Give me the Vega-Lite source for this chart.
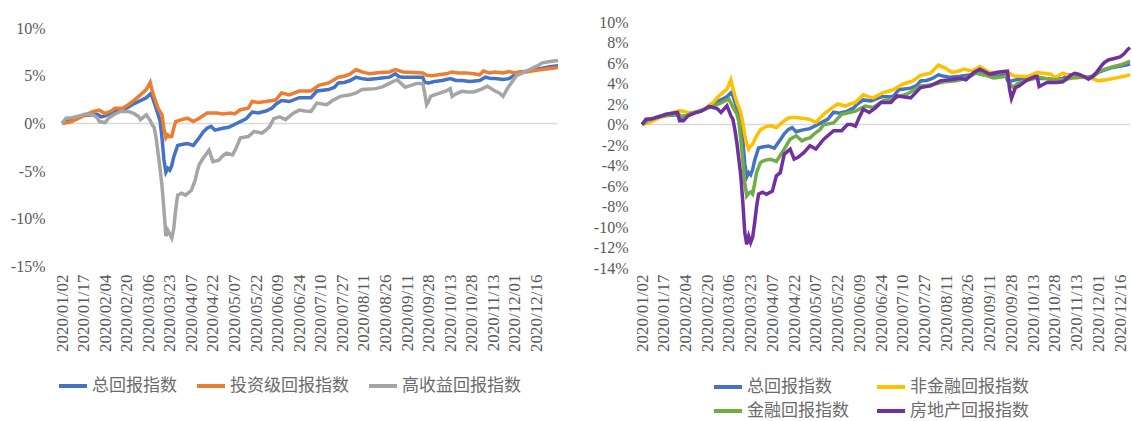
{
"$schema": "https://vega.github.io/schema/vega-lite/v6.json",
"background": "white",
"padding": {"left": 10, "top": 14, "right": 2, "bottom": 0},
"spacing": 28,
"config": {"view": {"stroke": null}, "axis": {"labelFont": "Liberation Serif", "labelFontSize": 16, "labelColor": "#595959", "grid": false, "ticks": false, "domain": false, "title": null}},
"resolve": {"scale": {"color": "independent"}, "legend": {"color": "independent"}},
"datasets": {
"L": [
{"s":"总回报指数","i":0,"v":0},{"s":"总回报指数","i":3,"v":0.3},{"s":"总回报指数","i":6,"v":0.5},{"s":"总回报指数","i":10,"v":0.8},{"s":"总回报指数","i":14,"v":0.9},{"s":"总回报指数","i":18,"v":0.95},{"s":"总回报指数","i":20,"v":0.7},{"s":"总回报指数","i":22,"v":0.8},{"s":"总回报指数","i":25,"v":1.1},{"s":"总回报指数","i":28,"v":1.25},{"s":"总回报指数","i":32,"v":1.5},{"s":"总回报指数","i":36,"v":2.0},{"s":"总回报指数","i":40,"v":2.4},{"s":"总回报指数","i":43,"v":2.7},{"s":"总回报指数","i":45,"v":3.1},{"s":"总回报指数","i":46,"v":2.8},{"s":"总回报指数","i":48,"v":1.6},{"s":"总回报指数","i":50,"v":0.3},{"s":"总回报指数","i":51,"v":-1.5},{"s":"总回报指数","i":52,"v":-3.8},{"s":"总回报指数","i":53,"v":-5.1},{"s":"总回报指数","i":54,"v":-4.7},{"s":"总回报指数","i":55,"v":-4.9},{"s":"总回报指数","i":56,"v":-4.4},{"s":"总回报指数","i":57,"v":-3.5},{"s":"总回报指数","i":59,"v":-2.3},{"s":"总回报指数","i":61,"v":-2.2},{"s":"总回报指数","i":64,"v":-2.1},{"s":"总回报指数","i":67,"v":-2.3},{"s":"总回报指数","i":70,"v":-1.5},{"s":"总回报指数","i":72,"v":-0.9},{"s":"总回报指数","i":74,"v":-0.5},{"s":"总回报指数","i":76,"v":-0.3},{"s":"总回报指数","i":78,"v":-0.7},{"s":"总回报指数","i":82,"v":-0.5},{"s":"总回报指数","i":85,"v":-0.4},{"s":"总回报指数","i":89,"v":0.0},{"s":"总回报指数","i":92,"v":0.3},{"s":"总回报指数","i":94,"v":0.5},{"s":"总回报指数","i":97,"v":1.2},{"s":"总回报指数","i":100,"v":1.1},{"s":"总回报指数","i":104,"v":1.3},{"s":"总回报指数","i":107,"v":1.6},{"s":"总回报指数","i":109,"v":2.0},{"s":"总回报指数","i":112,"v":2.4},{"s":"总回报指数","i":116,"v":2.3},{"s":"总回报指数","i":121,"v":2.7},{"s":"总回报指数","i":127,"v":2.7},{"s":"总回报指数","i":130,"v":3.4},{"s":"总回报指数","i":136,"v":3.55},{"s":"总回报指数","i":139,"v":3.8},{"s":"总回报指数","i":141,"v":4.25},{"s":"总回报指数","i":144,"v":4.3},{"s":"总回报指数","i":147,"v":4.5},{"s":"总回报指数","i":150,"v":4.85},{"s":"总回报指数","i":153,"v":4.7},{"s":"总回报指数","i":156,"v":4.6},{"s":"总回报指数","i":161,"v":4.7},{"s":"总回报指数","i":167,"v":4.85},{"s":"总回报指数","i":170,"v":5.2},{"s":"总回报指数","i":172,"v":4.9},{"s":"总回报指数","i":174,"v":4.85},{"s":"总回报指数","i":180,"v":4.85},{"s":"总回报指数","i":184,"v":4.85},{"s":"总回报指数","i":185,"v":4.3},{"s":"总回报指数","i":187,"v":4.25},{"s":"总回报指数","i":190,"v":4.4},{"s":"总回报指数","i":194,"v":4.5},{"s":"总回报指数","i":198,"v":4.7},{"s":"总回报指数","i":201,"v":4.5},{"s":"总回报指数","i":204,"v":4.5},{"s":"总回报指数","i":208,"v":4.4},{"s":"总回报指数","i":213,"v":4.5},{"s":"总回报指数","i":216,"v":4.85},{"s":"总回报指数","i":219,"v":4.7},{"s":"总回报指数","i":221,"v":4.7},{"s":"总回报指数","i":225,"v":4.6},{"s":"总回报指数","i":228,"v":4.7},{"s":"总回报指数","i":231,"v":5.1},{"s":"总回报指数","i":234,"v":5.3},{"s":"总回报指数","i":237,"v":5.5},{"s":"总回报指数","i":241,"v":5.65},{"s":"总回报指数","i":245,"v":5.8},{"s":"总回报指数","i":249,"v":5.95},{"s":"总回报指数","i":253,"v":6.05},
{"s":"投资级回报指数","i":0,"v":0},{"s":"投资级回报指数","i":3,"v":0.1},{"s":"投资级回报指数","i":5,"v":0.2},{"s":"投资级回报指数","i":8,"v":0.5},{"s":"投资级回报指数","i":12,"v":0.9},{"s":"投资级回报指数","i":16,"v":1.25},{"s":"投资级回报指数","i":19,"v":1.4},{"s":"投资级回报指数","i":22,"v":1.05},{"s":"投资级回报指数","i":25,"v":1.3},{"s":"投资级回报指数","i":27,"v":1.6},{"s":"投资级回报指数","i":31,"v":1.6},{"s":"投资级回报指数","i":34,"v":2.0},{"s":"投资级回报指数","i":36,"v":2.3},{"s":"投资级回报指数","i":40,"v":3.0},{"s":"投资级回报指数","i":43,"v":3.55},{"s":"投资级回报指数","i":45,"v":4.3},{"s":"投资级回报指数","i":46,"v":3.4},{"s":"投资级回报指数","i":48,"v":2.2},{"s":"投资级回报指数","i":49,"v":1.6},{"s":"投资级回报指数","i":51,"v":0.9},{"s":"投资级回报指数","i":52,"v":-0.5},{"s":"投资级回报指数","i":53,"v":-1.5},{"s":"投资级回报指数","i":54,"v":-1.2},{"s":"投资级回报指数","i":55,"v":-1.4},{"s":"投资级回报指数","i":56,"v":-1.37},{"s":"投资级回报指数","i":57,"v":-0.5},{"s":"投资级回报指数","i":58,"v":0.2},{"s":"投资级回报指数","i":61,"v":0.4},{"s":"投资级回报指数","i":64,"v":0.55},{"s":"投资级回报指数","i":67,"v":0.2},{"s":"投资级回报指数","i":70,"v":0.55},{"s":"投资级回报指数","i":74,"v":1.1},{"s":"投资级回报指数","i":79,"v":1.1},{"s":"投资级回报指数","i":82,"v":1.0},{"s":"投资级回报指数","i":86,"v":1.1},{"s":"投资级回报指数","i":88,"v":1.0},{"s":"投资级回报指数","i":91,"v":1.44},{"s":"投资级回报指数","i":95,"v":1.6},{"s":"投资级回报指数","i":97,"v":2.3},{"s":"投资级回报指数","i":100,"v":2.2},{"s":"投资级回报指数","i":104,"v":2.3},{"s":"投资级回报指数","i":109,"v":2.45},{"s":"投资级回报指数","i":112,"v":3.2},{"s":"投资级回报指数","i":116,"v":3.0},{"s":"投资级回报指数","i":121,"v":3.4},{"s":"投资级回报指数","i":127,"v":3.4},{"s":"投资级回报指数","i":131,"v":4.0},{"s":"投资级回报指数","i":136,"v":4.25},{"s":"投资级回报指数","i":141,"v":4.85},{"s":"投资级回报指数","i":144,"v":4.95},{"s":"投资级回报指数","i":147,"v":5.2},{"s":"投资级回报指数","i":150,"v":5.65},{"s":"投资级回报指数","i":153,"v":5.4},{"s":"投资级回报指数","i":157,"v":5.2},{"s":"投资级回报指数","i":162,"v":5.35},{"s":"投资级回报指数","i":167,"v":5.4},{"s":"投资级回报指数","i":170,"v":5.65},{"s":"投资级回报指数","i":174,"v":5.4},{"s":"投资级回报指数","i":179,"v":5.35},{"s":"投资级回报指数","i":184,"v":5.3},{"s":"投资级回报指数","i":186,"v":5.05},{"s":"投资级回报指数","i":189,"v":5.0},{"s":"投资级回报指数","i":192,"v":5.1},{"s":"投资级回报指数","i":196,"v":5.2},{"s":"投资级回报指数","i":199,"v":5.4},{"s":"投资级回报指数","i":202,"v":5.3},{"s":"投资级回报指数","i":206,"v":5.3},{"s":"投资级回报指数","i":210,"v":5.2},{"s":"投资级回报指数","i":213,"v":5.1},{"s":"投资级回报指数","i":215,"v":5.5},{"s":"投资级回报指数","i":218,"v":5.3},{"s":"投资级回报指数","i":221,"v":5.4},{"s":"投资级回报指数","i":225,"v":5.3},{"s":"投资级回报指数","i":228,"v":5.45},{"s":"投资级回报指数","i":231,"v":5.3},{"s":"投资级回报指数","i":234,"v":5.45},{"s":"投资级回报指数","i":237,"v":5.4},{"s":"投资级回报指数","i":241,"v":5.55},{"s":"投资级回报指数","i":245,"v":5.65},{"s":"投资级回报指数","i":249,"v":5.75},{"s":"投资级回报指数","i":253,"v":5.85},
{"s":"高收益回报指数","i":0,"v":0},{"s":"高收益回报指数","i":2,"v":0.55},{"s":"高收益回报指数","i":5,"v":0.6},{"s":"高收益回报指数","i":8,"v":0.75},{"s":"高收益回报指数","i":12,"v":0.98},{"s":"高收益回报指数","i":16,"v":0.9},{"s":"高收益回报指数","i":18,"v":0.6},{"s":"高收益回报指数","i":19,"v":0.2},{"s":"高收益回报指数","i":22,"v":0.1},{"s":"高收益回报指数","i":24,"v":0.6},{"s":"高收益回报指数","i":27,"v":1.0},{"s":"高收益回报指数","i":30,"v":1.26},{"s":"高收益回报指数","i":34,"v":1.26},{"s":"高收益回报指数","i":37,"v":1.0},{"s":"高收益回报指数","i":39,"v":0.74},{"s":"高收益回报指数","i":40,"v":0.4},{"s":"高收益回报指数","i":43,"v":0.9},{"s":"高收益回报指数","i":45,"v":0.3},{"s":"高收益回报指数","i":46,"v":-0.14},{"s":"高收益回报指数","i":47,"v":-0.4},{"s":"高收益回报指数","i":48,"v":-1.5},{"s":"高收益回报指数","i":50,"v":-4.7},{"s":"高收益回报指数","i":51,"v":-6.5},{"s":"高收益回报指数","i":52,"v":-9.0},{"s":"高收益回报指数","i":53,"v":-11.8},{"s":"高收益回报指数","i":54,"v":-11.2},{"s":"高收益回报指数","i":55,"v":-11.6},{"s":"高收益回报指数","i":56,"v":-12.0},{"s":"高收益回报指数","i":57,"v":-11.0},{"s":"高收益回报指数","i":58,"v":-9.0},{"s":"高收益回报指数","i":59,"v":-7.5},{"s":"高收益回报指数","i":61,"v":-7.3},{"s":"高收益回报指数","i":63,"v":-7.5},{"s":"高收益回报指数","i":66,"v":-7.0},{"s":"高收益回报指数","i":68,"v":-5.9},{"s":"高收益回报指数","i":69,"v":-5.0},{"s":"高收益回报指数","i":70,"v":-4.3},{"s":"高收益回报指数","i":72,"v":-3.65},{"s":"高收益回报指数","i":75,"v":-2.8},{"s":"高收益回报指数","i":77,"v":-4.0},{"s":"高收益回报指数","i":80,"v":-3.85},{"s":"高收益回报指数","i":82,"v":-3.4},{"s":"高收益回报指数","i":84,"v":-3.1},{"s":"高收益回报指数","i":87,"v":-3.3},{"s":"高收益回报指数","i":89,"v":-2.5},{"s":"高收益回报指数","i":91,"v":-1.5},{"s":"高收益回报指数","i":95,"v":-1.37},{"s":"高收益回报指数","i":98,"v":-0.84},{"s":"高收益回报指数","i":102,"v":-1.0},{"s":"高收益回报指数","i":104,"v":-0.7},{"s":"高收益回报指数","i":106,"v":-0.3},{"s":"高收益回报指数","i":108,"v":0.5},{"s":"高收益回报指数","i":111,"v":0.7},{"s":"高收益回报指数","i":114,"v":0.4},{"s":"高收益回报指数","i":118,"v":1.08},{"s":"高收益回报指数","i":121,"v":1.4},{"s":"高收益回报指数","i":124,"v":1.3},{"s":"高收益回报指数","i":127,"v":1.26},{"s":"高收益回报指数","i":130,"v":2.14},{"s":"高收益回报指数","i":135,"v":1.97},{"s":"高收益回报指数","i":138,"v":2.4},{"s":"高收益回报指数","i":142,"v":2.84},{"s":"高收益回报指数","i":147,"v":3.0},{"s":"高收益回报指数","i":150,"v":3.2},{"s":"高收益回报指数","i":153,"v":3.55},{"s":"高收益回报指数","i":157,"v":3.6},{"s":"高收益回报指数","i":160,"v":3.65},{"s":"高收益回报指数","i":163,"v":3.8},{"s":"高收益回报指数","i":166,"v":4.1},{"s":"高收益回报指数","i":169,"v":4.4},{"s":"高收益回报指数","i":171,"v":4.56},{"s":"高收益回报指数","i":173,"v":4.2},{"s":"高收益回报指数","i":175,"v":3.8},{"s":"高收益回报指数","i":178,"v":4.0},{"s":"高收益回报指数","i":181,"v":4.2},{"s":"高收益回报指数","i":184,"v":4.2},{"s":"高收益回报指数","i":185,"v":3.2},{"s":"高收益回报指数","i":186,"v":1.97},{"s":"高收益回报指数","i":187,"v":2.3},{"s":"高收益回报指数","i":188,"v":2.84},{"s":"高收益回报指数","i":190,"v":3.0},{"s":"高收益回报指数","i":193,"v":3.2},{"s":"高收益回报指数","i":196,"v":3.4},{"s":"高收益回报指数","i":198,"v":3.65},{"s":"高收益回报指数","i":199,"v":2.84},{"s":"高收益回报指数","i":201,"v":3.1},{"s":"高收益回报指数","i":204,"v":3.37},{"s":"高收益回报指数","i":207,"v":3.3},{"s":"高收益回报指数","i":210,"v":3.3},{"s":"高收益回报指数","i":214,"v":3.6},{"s":"高收益回报指数","i":217,"v":3.9},{"s":"高收益回报指数","i":220,"v":3.5},{"s":"高收益回报指数","i":223,"v":3.2},{"s":"高收益回报指数","i":225,"v":2.84},{"s":"高收益回报指数","i":227,"v":3.6},{"s":"高收益回报指数","i":229,"v":4.2},{"s":"高收益回报指数","i":232,"v":5.05},{"s":"高收益回报指数","i":235,"v":5.3},{"s":"高收益回报指数","i":237,"v":5.5},{"s":"高收益回报指数","i":240,"v":5.8},{"s":"高收益回报指数","i":243,"v":6.1},{"s":"高收益回报指数","i":245,"v":6.35},{"s":"高收益回报指数","i":249,"v":6.5},{"s":"高收益回报指数","i":253,"v":6.6}
],
"R": [
{"s":"总回报指数","i":0,"v":0},{"s":"总回报指数","i":3,"v":0.3},{"s":"总回报指数","i":6,"v":0.5},{"s":"总回报指数","i":10,"v":0.8},{"s":"总回报指数","i":14,"v":0.9},{"s":"总回报指数","i":18,"v":0.95},{"s":"总回报指数","i":20,"v":0.7},{"s":"总回报指数","i":22,"v":0.8},{"s":"总回报指数","i":25,"v":1.1},{"s":"总回报指数","i":28,"v":1.25},{"s":"总回报指数","i":32,"v":1.5},{"s":"总回报指数","i":36,"v":2.0},{"s":"总回报指数","i":40,"v":2.4},{"s":"总回报指数","i":43,"v":2.7},{"s":"总回报指数","i":45,"v":3.1},{"s":"总回报指数","i":46,"v":2.8},{"s":"总回报指数","i":48,"v":1.6},{"s":"总回报指数","i":50,"v":0.3},{"s":"总回报指数","i":51,"v":-1.5},{"s":"总回报指数","i":52,"v":-3.8},{"s":"总回报指数","i":53,"v":-5.1},{"s":"总回报指数","i":54,"v":-4.7},{"s":"总回报指数","i":55,"v":-4.9},{"s":"总回报指数","i":56,"v":-4.4},{"s":"总回报指数","i":57,"v":-3.5},{"s":"总回报指数","i":59,"v":-2.3},{"s":"总回报指数","i":61,"v":-2.2},{"s":"总回报指数","i":64,"v":-2.1},{"s":"总回报指数","i":67,"v":-2.3},{"s":"总回报指数","i":70,"v":-1.5},{"s":"总回报指数","i":72,"v":-0.9},{"s":"总回报指数","i":74,"v":-0.5},{"s":"总回报指数","i":76,"v":-0.3},{"s":"总回报指数","i":78,"v":-0.7},{"s":"总回报指数","i":82,"v":-0.5},{"s":"总回报指数","i":85,"v":-0.4},{"s":"总回报指数","i":89,"v":0.0},{"s":"总回报指数","i":92,"v":0.3},{"s":"总回报指数","i":94,"v":0.5},{"s":"总回报指数","i":97,"v":1.2},{"s":"总回报指数","i":100,"v":1.1},{"s":"总回报指数","i":104,"v":1.3},{"s":"总回报指数","i":107,"v":1.6},{"s":"总回报指数","i":109,"v":2.0},{"s":"总回报指数","i":112,"v":2.4},{"s":"总回报指数","i":116,"v":2.3},{"s":"总回报指数","i":121,"v":2.7},{"s":"总回报指数","i":127,"v":2.7},{"s":"总回报指数","i":130,"v":3.4},{"s":"总回报指数","i":136,"v":3.55},{"s":"总回报指数","i":139,"v":3.8},{"s":"总回报指数","i":141,"v":4.25},{"s":"总回报指数","i":144,"v":4.3},{"s":"总回报指数","i":147,"v":4.5},{"s":"总回报指数","i":150,"v":4.85},{"s":"总回报指数","i":153,"v":4.7},{"s":"总回报指数","i":156,"v":4.6},{"s":"总回报指数","i":161,"v":4.7},{"s":"总回报指数","i":167,"v":4.85},{"s":"总回报指数","i":170,"v":5.2},{"s":"总回报指数","i":172,"v":4.9},{"s":"总回报指数","i":174,"v":4.85},{"s":"总回报指数","i":180,"v":4.85},{"s":"总回报指数","i":184,"v":4.85},{"s":"总回报指数","i":185,"v":4.3},{"s":"总回报指数","i":187,"v":4.25},{"s":"总回报指数","i":190,"v":4.4},{"s":"总回报指数","i":194,"v":4.5},{"s":"总回报指数","i":198,"v":4.7},{"s":"总回报指数","i":201,"v":4.5},{"s":"总回报指数","i":204,"v":4.5},{"s":"总回报指数","i":208,"v":4.4},{"s":"总回报指数","i":213,"v":4.5},{"s":"总回报指数","i":216,"v":4.85},{"s":"总回报指数","i":219,"v":4.7},{"s":"总回报指数","i":221,"v":4.7},{"s":"总回报指数","i":225,"v":4.6},{"s":"总回报指数","i":228,"v":4.7},{"s":"总回报指数","i":231,"v":5.1},{"s":"总回报指数","i":234,"v":5.3},{"s":"总回报指数","i":237,"v":5.5},{"s":"总回报指数","i":241,"v":5.65},{"s":"总回报指数","i":245,"v":5.8},{"s":"总回报指数","i":247,"v":5.9},
{"s":"非金融回报指数","i":0,"v":0},{"s":"非金融回报指数","i":4,"v":0.2},{"s":"非金融回报指数","i":9,"v":0.7},{"s":"非金融回报指数","i":13,"v":0.9},{"s":"非金融回报指数","i":16,"v":1.17},{"s":"非金融回报指数","i":19,"v":1.35},{"s":"非金融回报指数","i":21,"v":1.3},{"s":"非金融回报指数","i":24,"v":1.1},{"s":"非金融回报指数","i":27,"v":1.2},{"s":"非金融回报指数","i":30,"v":1.3},{"s":"非金融回报指数","i":33,"v":1.7},{"s":"非金融回报指数","i":36,"v":2.15},{"s":"非金融回报指数","i":39,"v":2.8},{"s":"非金融回报指数","i":43,"v":3.45},{"s":"非金融回报指数","i":44,"v":3.9},{"s":"非金融回报指数","i":45,"v":4.36},{"s":"非金融回报指数","i":46,"v":3.5},{"s":"非金融回报指数","i":48,"v":2.15},{"s":"非金融回报指数","i":50,"v":1.17},{"s":"非金融回报指数","i":51,"v":0.2},{"s":"非金融回报指数","i":52,"v":-1.0},{"s":"非金融回报指数","i":53,"v":-1.9},{"s":"非金融回报指数","i":54,"v":-2.4},{"s":"非金融回报指数","i":55,"v":-2.1},{"s":"非金融回报指数","i":56,"v":-1.9},{"s":"非金融回报指数","i":57,"v":-1.5},{"s":"非金融回报指数","i":58,"v":-1.1},{"s":"非金融回报指数","i":60,"v":-0.5},{"s":"非金融回报指数","i":63,"v":-0.2},{"s":"非金融回报指数","i":65,"v":-0.13},{"s":"非金融回报指数","i":68,"v":-0.3},{"s":"非金融回报指数","i":71,"v":0.2},{"s":"非金融回报指数","i":73,"v":0.5},{"s":"非金融回报指数","i":75,"v":0.68},{"s":"非金融回报指数","i":78,"v":0.68},{"s":"非金融回报指数","i":81,"v":0.6},{"s":"非金融回报指数","i":85,"v":0.5},{"s":"非金融回报指数","i":88,"v":0.2},{"s":"非金融回报指数","i":91,"v":0.8},{"s":"非金融回报指数","i":93,"v":1.17},{"s":"非金融回报指数","i":96,"v":1.6},{"s":"非金融回报指数","i":99,"v":2.0},{"s":"非金融回报指数","i":103,"v":1.8},{"s":"非金融回报指数","i":105,"v":1.98},{"s":"非金融回报指数","i":108,"v":2.15},{"s":"非金融回报指数","i":112,"v":2.9},{"s":"非金融回报指数","i":115,"v":2.7},{"s":"非金融回报指数","i":117,"v":2.6},{"s":"非金融回报指数","i":122,"v":3.1},{"s":"非金融回报指数","i":127,"v":3.37},{"s":"非金融回报指数","i":132,"v":3.93},{"s":"非金融回报指数","i":137,"v":4.24},{"s":"非金融回报指数","i":141,"v":4.8},{"s":"非金融回报指数","i":146,"v":5.0},{"s":"非金融回报指数","i":150,"v":5.8},{"s":"非金融回报指数","i":153,"v":5.56},{"s":"非金融回报指数","i":157,"v":5.07},{"s":"非金融回报指数","i":160,"v":5.2},{"s":"非金融回报指数","i":163,"v":5.4},{"s":"非金融回报指数","i":167,"v":5.2},{"s":"非金融回报指数","i":171,"v":5.66},{"s":"非金融回报指数","i":174,"v":5.3},{"s":"非金融回报指数","i":176,"v":5.07},{"s":"非金融回报指数","i":181,"v":5.07},{"s":"非金融回报指数","i":184,"v":5.2},{"s":"非金融回报指数","i":186,"v":5.0},{"s":"非金融回报指数","i":188,"v":4.75},{"s":"非金融回报指数","i":191,"v":4.7},{"s":"非金融回报指数","i":195,"v":4.68},{"s":"非金融回报指数","i":200,"v":5.07},{"s":"非金融回报指数","i":203,"v":5.0},{"s":"非金融回报指数","i":207,"v":4.9},{"s":"非金融回报指数","i":209,"v":4.55},{"s":"非金融回报指数","i":213,"v":5.0},{"s":"非金融回报指数","i":216,"v":4.8},{"s":"非金融回报指数","i":220,"v":4.55},{"s":"非金融回报指数","i":223,"v":4.6},{"s":"非金融回报指数","i":227,"v":4.55},{"s":"非金融回报指数","i":231,"v":4.26},{"s":"非金融回报指数","i":235,"v":4.36},{"s":"非金融回报指数","i":240,"v":4.55},{"s":"非金融回报指数","i":244,"v":4.7},{"s":"非金融回报指数","i":247,"v":4.85},
{"s":"金融回报指数","i":0,"v":0},{"s":"金融回报指数","i":3,"v":0.4},{"s":"金融回报指数","i":7,"v":0.65},{"s":"金融回报指数","i":11,"v":0.85},{"s":"金融回报指数","i":15,"v":1.0},{"s":"金融回报指数","i":18,"v":1.05},{"s":"金融回报指数","i":20,"v":0.8},{"s":"金融回报指数","i":22,"v":0.85},{"s":"金融回报指数","i":25,"v":1.1},{"s":"金融回报指数","i":28,"v":1.25},{"s":"金融回报指数","i":32,"v":1.5},{"s":"金融回报指数","i":36,"v":1.8},{"s":"金融回报指数","i":40,"v":2.1},{"s":"金融回报指数","i":43,"v":2.4},{"s":"金融回报指数","i":44,"v":2.47},{"s":"金融回报指数","i":46,"v":1.7},{"s":"金融回报指数","i":48,"v":1.0},{"s":"金融回报指数","i":49,"v":0.3},{"s":"金融回报指数","i":50,"v":-1.5},{"s":"金融回报指数","i":51,"v":-3.5},{"s":"金融回报指数","i":52,"v":-5.66},{"s":"金融回报指数","i":53,"v":-6.96},{"s":"金融回报指数","i":54,"v":-6.7},{"s":"金融回报指数","i":55,"v":-6.6},{"s":"金融回报指数","i":56,"v":-6.8},{"s":"金融回报指数","i":57,"v":-5.8},{"s":"金融回报指数","i":58,"v":-4.68},{"s":"金融回报指数","i":60,"v":-3.7},{"s":"金融回报指数","i":62,"v":-3.5},{"s":"金融回报指数","i":65,"v":-3.4},{"s":"金融回报指数","i":68,"v":-3.6},{"s":"金融回报指数","i":70,"v":-3.0},{"s":"金融回报指数","i":72,"v":-2.4},{"s":"金融回报指数","i":75,"v":-1.43},{"s":"金融回报指数","i":78,"v":-1.1},{"s":"金融回报指数","i":81,"v":-1.6},{"s":"金融回报指数","i":83,"v":-1.4},{"s":"金融回报指数","i":85,"v":-1.3},{"s":"金融回报指数","i":88,"v":-0.78},{"s":"金融回报指数","i":90,"v":-0.5},{"s":"金融回报指数","i":92,"v":0.0},{"s":"金融回报指数","i":97,"v":0.16},{"s":"金融回报指数","i":101,"v":1.0},{"s":"金融回报指数","i":105,"v":1.17},{"s":"金融回报指数","i":108,"v":1.3},{"s":"金融回报指数","i":110,"v":1.5},{"s":"金融回报指数","i":113,"v":1.8},{"s":"金融回报指数","i":117,"v":1.66},{"s":"金融回报指数","i":122,"v":2.3},{"s":"金融回报指数","i":127,"v":2.5},{"s":"金融回报指数","i":131,"v":2.8},{"s":"金融回报指数","i":134,"v":2.96},{"s":"金融回报指数","i":138,"v":3.4},{"s":"金融回报指数","i":141,"v":3.77},{"s":"金融回报指数","i":144,"v":3.8},{"s":"金融回报指数","i":148,"v":3.93},{"s":"金融回报指数","i":153,"v":4.16},{"s":"金融回报指数","i":159,"v":4.26},{"s":"金融回报指数","i":162,"v":4.4},{"s":"金融回报指数","i":165,"v":4.6},{"s":"金融回报指数","i":169,"v":5.0},{"s":"金融回报指数","i":174,"v":4.8},{"s":"金融回报指数","i":178,"v":4.55},{"s":"金融回报指数","i":181,"v":4.6},{"s":"金融回报指数","i":185,"v":4.75},{"s":"金融回报指数","i":186,"v":4.0},{"s":"金融回报指数","i":188,"v":3.6},{"s":"金融回报指数","i":190,"v":4.0},{"s":"金融回报指数","i":193,"v":4.2},{"s":"金融回报指数","i":196,"v":4.36},{"s":"金融回报指数","i":201,"v":4.6},{"s":"金融回报指数","i":204,"v":4.5},{"s":"金融回报指数","i":208,"v":4.36},{"s":"金融回报指数","i":214,"v":4.36},{"s":"金融回报指数","i":217,"v":4.5},{"s":"金融回报指数","i":221,"v":4.6},{"s":"金融回报指数","i":225,"v":4.6},{"s":"金融回报指数","i":228,"v":4.6},{"s":"金融回报指数","i":230,"v":4.9},{"s":"金融回报指数","i":232,"v":5.24},{"s":"金融回报指数","i":237,"v":5.56},{"s":"金融回报指数","i":242,"v":5.8},{"s":"金融回报指数","i":245,"v":6.0},{"s":"金融回报指数","i":247,"v":6.2},
{"s":"房地产回报指数","i":0,"v":0},{"s":"房地产回报指数","i":2,"v":0.52},{"s":"房地产回报指数","i":5,"v":0.55},{"s":"房地产回报指数","i":7,"v":0.68},{"s":"房地产回报指数","i":10,"v":0.85},{"s":"房地产回报指数","i":12,"v":1.0},{"s":"房地产回报指数","i":15,"v":1.1},{"s":"房地产回报指数","i":18,"v":1.17},{"s":"房地产回报指数","i":19,"v":0.36},{"s":"房地产回报指数","i":21,"v":0.36},{"s":"房地产回报指数","i":23,"v":0.8},{"s":"房地产回报指数","i":25,"v":1.0},{"s":"房地产回报指数","i":28,"v":1.2},{"s":"房地产回报指数","i":30,"v":1.3},{"s":"房地产回报指数","i":34,"v":1.76},{"s":"房地产回报指数","i":38,"v":1.56},{"s":"房地产回报指数","i":40,"v":1.17},{"s":"房地产回报指数","i":43,"v":1.82},{"s":"房地产回报指数","i":45,"v":0.85},{"s":"房地产回报指数","i":46,"v":0.52},{"s":"房地产回报指数","i":47,"v":-0.5},{"s":"房地产回报指数","i":48,"v":-1.76},{"s":"房地产回报指数","i":50,"v":-5.0},{"s":"房地产回报指数","i":51,"v":-7.5},{"s":"房地产回报指数","i":52,"v":-10.5},{"s":"房地产回报指数","i":53,"v":-11.7},{"s":"房地产回报指数","i":54,"v":-10.9},{"s":"房地产回报指数","i":55,"v":-11.5},{"s":"房地产回报指数","i":56,"v":-11.0},{"s":"房地产回报指数","i":57,"v":-9.6},{"s":"房地产回报指数","i":58,"v":-8.0},{"s":"房地产回报指数","i":59,"v":-6.8},{"s":"房地产回报指数","i":61,"v":-6.6},{"s":"房地产回报指数","i":63,"v":-6.8},{"s":"房地产回报指数","i":66,"v":-6.5},{"s":"房地产回报指数","i":68,"v":-5.0},{"s":"房地产回报指数","i":70,"v":-4.7},{"s":"房地产回报指数","i":71,"v":-3.8},{"s":"房地产回报指数","i":72,"v":-2.9},{"s":"房地产回报指数","i":75,"v":-2.4},{"s":"房地产回报指数","i":77,"v":-3.38},{"s":"房地产回报指数","i":79,"v":-3.2},{"s":"房地产回报指数","i":82,"v":-2.73},{"s":"房地产回报指数","i":85,"v":-2.08},{"s":"房地产回报指数","i":88,"v":-2.4},{"s":"房地产回报指数","i":90,"v":-1.9},{"s":"房地产回报指数","i":92,"v":-1.43},{"s":"房地产回报指数","i":97,"v":-0.6},{"s":"房地产回报指数","i":101,"v":-0.6},{"s":"房地产回报指数","i":104,"v":0.0},{"s":"房地产回报指数","i":106,"v":0.0},{"s":"房地产回报指数","i":108,"v":-0.16},{"s":"房地产回报指数","i":110,"v":0.7},{"s":"房地产回报指数","i":112,"v":1.5},{"s":"房地产回报指数","i":115,"v":1.17},{"s":"房地产回报指数","i":118,"v":1.6},{"s":"房地产回报指数","i":121,"v":2.15},{"s":"房地产回报指数","i":126,"v":2.15},{"s":"房地产回报指数","i":129,"v":2.8},{"s":"房地产回报指数","i":132,"v":2.7},{"s":"房地产回报指数","i":136,"v":2.6},{"s":"房地产回报指数","i":141,"v":3.6},{"s":"房地产回报指数","i":146,"v":3.77},{"s":"房地产回报指数","i":151,"v":4.26},{"s":"房地产回报指数","i":156,"v":4.36},{"s":"房地产回报指数","i":161,"v":4.5},{"s":"房地产回报指数","i":164,"v":4.36},{"s":"房地产回报指数","i":168,"v":5.07},{"s":"房地产回报指数","i":171,"v":5.4},{"s":"房地产回报指数","i":174,"v":5.1},{"s":"房地产回报指数","i":176,"v":4.9},{"s":"房地产回报指数","i":180,"v":5.1},{"s":"房地产回报指数","i":185,"v":5.2},{"s":"房地产回报指数","i":186,"v":3.5},{"s":"房地产回报指数","i":187,"v":2.54},{"s":"房地产回报指数","i":189,"v":3.6},{"s":"房地产回报指数","i":191,"v":3.77},{"s":"房地产回报指数","i":195,"v":4.36},{"s":"房地产回报指数","i":199,"v":4.68},{"s":"房地产回报指数","i":200,"v":4.7},{"s":"房地产回报指数","i":201,"v":3.7},{"s":"房地产回报指数","i":203,"v":3.9},{"s":"房地产回报指数","i":205,"v":4.1},{"s":"房地产回报指数","i":210,"v":4.1},{"s":"房地产回报指数","i":213,"v":4.16},{"s":"房地产回报指数","i":217,"v":4.8},{"s":"房地产回报指数","i":219,"v":5.0},{"s":"房地产回报指数","i":221,"v":4.9},{"s":"房地产回报指数","i":223,"v":4.75},{"s":"房地产回报指数","i":226,"v":4.42},{"s":"房地产回报指数","i":228,"v":4.7},{"s":"房地产回报指数","i":230,"v":5.07},{"s":"房地产回报指数","i":232,"v":5.6},{"s":"房地产回报指数","i":234,"v":6.05},{"s":"房地产回报指数","i":236,"v":6.3},{"s":"房地产回报指数","i":239,"v":6.44},{"s":"房地产回报指数","i":242,"v":6.6},{"s":"房地产回报指数","i":244,"v":6.9},{"s":"房地产回报指数","i":246,"v":7.35},{"s":"房地产回报指数","i":247,"v":7.5}
]
},
"hconcat": [
{
"width": 496, "height": 246,
"layer": [
{"data": {"values": [{}]}, "mark": {"type": "rule", "color": "#d9d9d9", "strokeWidth": 1.5},
 "encoding": {"y": {"datum": 0, "type": "quantitative", "scale": {"domain": [-15.14, 10.63], "nice": false, "zero": false}, "axis": {"values": [-15,-10,-5,0,5,10], "labelExpr": "datum.value + '%'", "labelPadding": 17}}}},
{"data": {"name": "L"}, "mark": {"type": "line", "strokeWidth": 3.5},
 "encoding": {
  "x": {"field": "i", "type": "quantitative", "scale": {"domain": [0, 253], "nice": false, "zero": false},
   "axis": {"values": [0,11,22,33,44,55,66,77,88,99,110,121,132,143,154,165,176,187,198,209,220,231,242], "labelAngle": -90, "labelPadding": 6, "labelFontSize": 17,
   "labelExpr": "['2020/01/02','2020/01/17','2020/02/04','2020/02/20','2020/03/06','2020/03/23','2020/04/07','2020/04/22','2020/05/07','2020/05/22','2020/06/09','2020/06/24','2020/07/10','2020/07/27','2020/08/11','2020/08/26','2020/09/11','2020/09/28','2020/10/13','2020/10/28','2020/11/13','2020/12/01','2020/12/16'][round(datum.value/11)]"}},
  "y": {"field": "v", "type": "quantitative", "scale": {"domain": [-15.14, 10.63], "nice": false, "zero": false}, "axis": {"values": [-15,-10,-5,0,5,10], "labelExpr": "datum.value + '%'", "labelPadding": 17}},
  "color": {"field": "s", "type": "nominal", "sort": null,
   "scale": {"domain": ["总回报指数","投资级回报指数","高收益回报指数"], "range": ["#4472C4","#ED7D31","#A5A5A5"]},
   "legend": {"orient": "none", "legendX": -5, "legendY": 348, "direction": "horizontal", "columns": 3, "title": null, "symbolType": "stroke", "symbolSize": 784, "symbolStrokeWidth": 4, "labelFont": "Noto Sans CJK SC", "labelFontSize": 17, "labelColor": "#6b6b6b", "columnPadding": 12, "labelOffset": 3}}
 }}
]
},
{
"width": 488, "height": 246,
"layer": [
{"data": {"values": [{}]}, "mark": {"type": "rule", "color": "#d9d9d9", "strokeWidth": 1.5},
 "encoding": {"y": {"datum": 0, "type": "quantitative", "scale": {"domain": [-14, 10], "nice": false, "zero": false}, "axis": {"values": [-14,-12,-10,-8,-6,-4,-2,0,2,4,6,8,10], "labelExpr": "datum.value + '%'", "labelPadding": 14}}}},
{"data": {"name": "R"}, "mark": {"type": "line", "strokeWidth": 3.5},
 "encoding": {
  "x": {"field": "i", "type": "quantitative", "scale": {"domain": [0, 247], "nice": false, "zero": false},
   "axis": {"values": [0,11,22,33,44,55,66,77,88,99,110,121,132,143,154,165,176,187,198,209,220,231,242], "labelAngle": -90, "labelPadding": 6, "labelFontSize": 17,
   "labelExpr": "['2020/01/02','2020/01/17','2020/02/04','2020/02/20','2020/03/06','2020/03/23','2020/04/07','2020/04/22','2020/05/07','2020/05/22','2020/06/09','2020/06/24','2020/07/10','2020/07/27','2020/08/11','2020/08/26','2020/09/11','2020/09/28','2020/10/13','2020/10/28','2020/11/13','2020/12/01','2020/12/16'][round(datum.value/11)]"}},
  "y": {"field": "v", "type": "quantitative", "scale": {"domain": [-14, 10], "nice": false, "zero": false}, "axis": {"values": [-14,-12,-10,-8,-6,-4,-2,0,2,4,6,8,10], "labelExpr": "datum.value + '%'", "labelPadding": 14}},
  "color": {"field": "s", "type": "nominal", "sort": null,
   "scale": {"domain": ["总回报指数","非金融回报指数","金融回报指数","房地产回报指数"], "range": ["#4472C4","#FFC000","#70AD47","#7030A0"]},
   "legend": {"orient": "none", "legendX": 70, "legendY": 349, "direction": "horizontal", "columns": 2, "title": null, "symbolType": "stroke", "symbolSize": 784, "symbolStrokeWidth": 4, "labelFont": "Noto Sans CJK SC", "labelFontSize": 17, "labelColor": "#6b6b6b", "columnPadding": 20, "rowPadding": 0, "labelOffset": 3}}
 }}
]
}
]
}
